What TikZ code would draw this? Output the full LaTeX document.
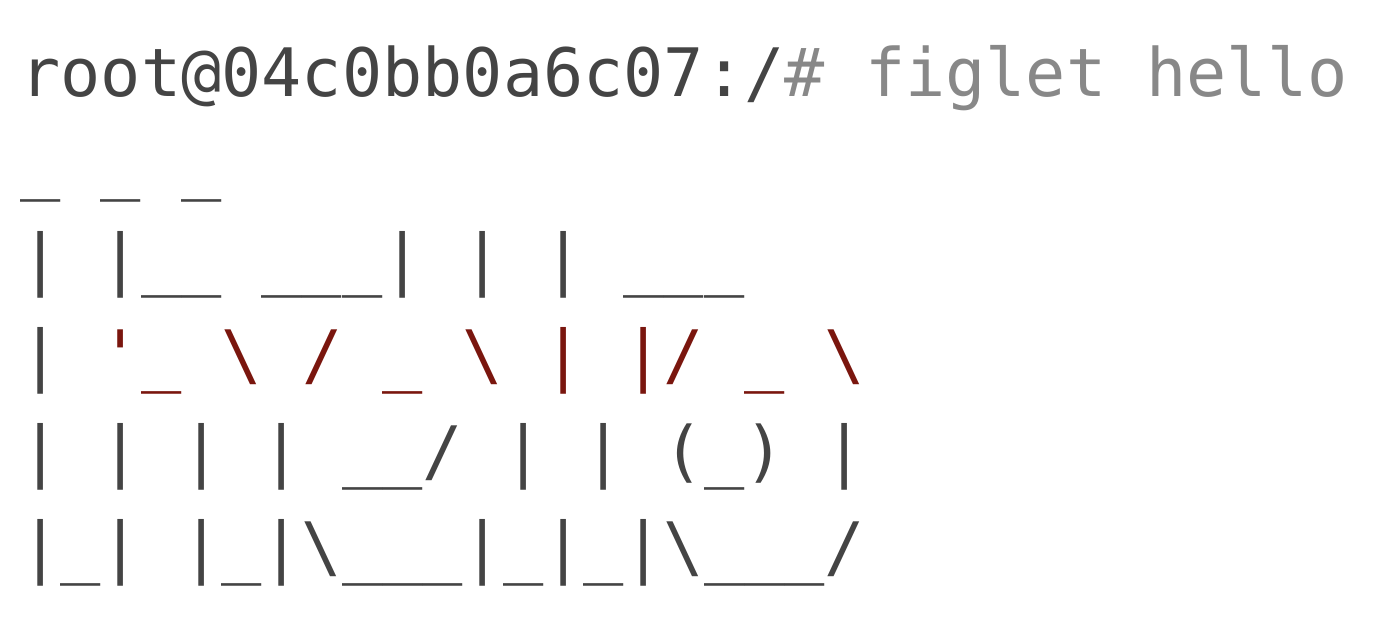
\documentclass[tikz,border=0pt]{standalone}
\usepackage{fontspec}
\newfontfamily\termFont{DejaVu Sans Mono}
\definecolor{termGray}{HTML}{444444}
\definecolor{termComment}{HTML}{888888}
\definecolor{termRed}{HTML}{7A160E}
\tikzstyle{termLine} = [anchor=base west, inner sep=0pt, outer sep=0pt, text=termGray, font=\termFont\fontsize{66.8pt}{96pt}\selectfont]

\begin{document}
\begin{tikzpicture}
		\useasboundingbox (0pt,0pt) rectangle (1388pt,-640pt);

		% Prompt line with the command
		\node (prompt) [termLine] at (20.5pt,-96pt) {root@04c0bb0a6c07:/\textcolor{termComment}{\# figlet hello}};

		% figlet output, one node per row
		\path (prompt.base west)+(0pt,-90pt) node (rowOne) [termLine] {\_ \_ \_};
		\path (rowOne.base west)+(0pt,-96pt) node (rowTwo) [termLine] {| |\_\_ \_\_\_| | | \_\_\_};
		\path (rowTwo.base west)+(0pt,-96pt) node (rowThree) [termLine] {| \textcolor{termRed}{\textquotesingle\_ \textbackslash{} / \_ \textbackslash{} | |/ \_ \textbackslash}};
		\path (rowThree.base west)+(0pt,-96pt) node (rowFour) [termLine] {| | | | \_\_/ | | (\_) |};
		\path (rowFour.base west)+(0pt,-96pt) node (rowFive) [termLine] {|\_| |\_|\textbackslash\_\_\_|\_|\_|\textbackslash\_\_\_/};
\end{tikzpicture}
\end{document}
